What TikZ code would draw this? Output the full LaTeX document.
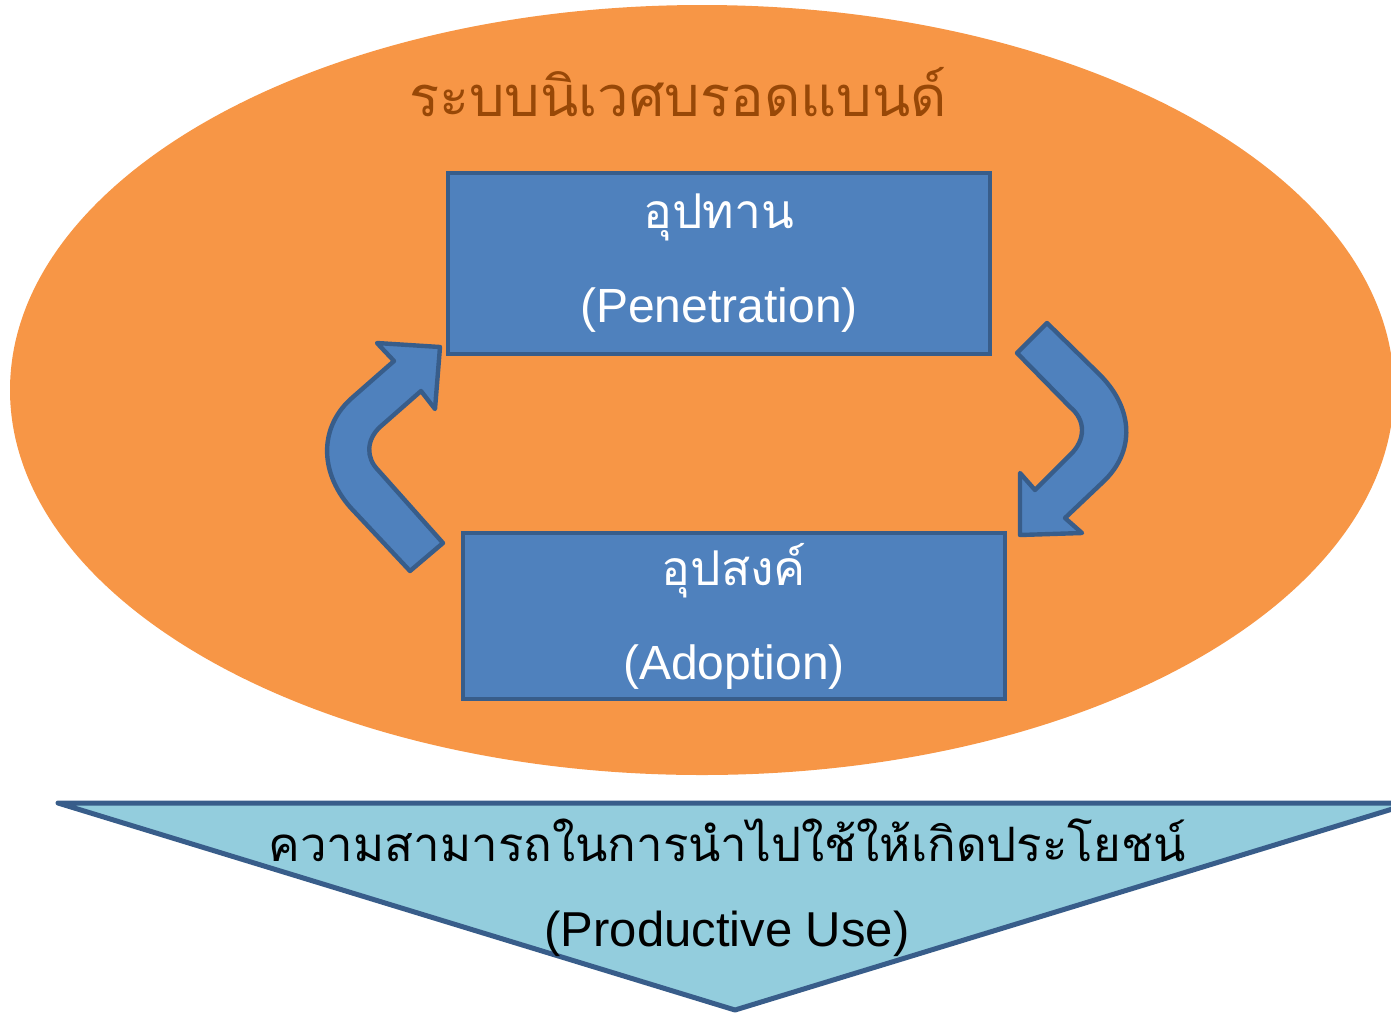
\documentclass[tikz,border=0pt]{standalone}
\usepackage{fontspec}
\setmainfont{Liberation Sans}
\newfontfamily\thaifont[Script=Thai]{Loma}
\usepackage{tikz}
\definecolor{ovalorange}{HTML}{F79646}
\definecolor{titlebrown}{HTML}{984807}
\definecolor{boxblue}{HTML}{4F81BD}
\definecolor{boxline}{HTML}{385D8A}
\definecolor{funnelblue}{HTML}{93CDDD}

\begin{document}
\begin{tikzpicture}[x=0.5pt, y=-0.5pt,
			blockbox/.style={draw=boxline, line width=2.2pt, fill=boxblue, text=white, align=center, inner sep=0pt, minimum width=271pt, font=\fontsize{24}{47}\selectfont},
			bentarrow/.style={draw=boxline, line width=2.2pt, fill=boxblue, line join=round},
			font=\fontsize{24.5}{29}\selectfont]
			%Bildbereich
			\useasboundingbox (0,0) rectangle (1391,1013);
			\begin{scope}
			\clip (0,0) rectangle (1391,1013);
			% Ellipse
			\fill[ovalorange] (702,390) ellipse [x radius=692, y radius=385];
			% Trichter unten
			\draw[boxline, fill=funnelblue, line width=2.5pt, line join=round] (58,803) -- (1412,803) -- (735,1010) -- cycle;
			\end{scope}
			% Titel
			\node[text=titlebrown, font=\fontsize{28}{34}\selectfont\thaifont] (titel) at (678,92) {ระบบนิเวศบรอดแบนด์};
			% Kaesten
			\node[blockbox, minimum height=90.5pt] (supply) at (719,263.5) {{\thaifont อุปทาน}\\(Penetration)};
			\node[blockbox, minimum height=83pt] (demand) at (734,616) {{\thaifont อุปสงค์}\\(Adoption)};
			% Pfeile
			\draw[bentarrow] (410,571) -- (350,507) .. controls (318,470) and (320,425) .. (353,397)
				-- (394,361) -- (377,343) -- (440,347) -- (435,409) -- (421,391) -- (380,427)
				.. controls (366,440) and (366,458) .. (378,470) -- (443,543) -- cycle;
			\draw[bentarrow] (1047,323) -- (1097,372) .. controls (1135,408) and (1135,452) .. (1103,482)
				-- (1065,518) -- (1082,533) -- (1020,535) -- (1020,473) -- (1035,490) -- (1070,455)
				.. controls (1086,440) and (1086,420) .. (1070,407) -- (1017,353) -- cycle;
			% Beschriftung Trichter
			\node[font=\fontsize{23.7}{29}\selectfont\thaifont] (nutzen) at (727,840) {ความสามารถในการนำไปใช้ให้เกิดประโยชน์};
			\node (use) at (727,934) {(Productive Use)};
		\end{tikzpicture}
\end{document}
